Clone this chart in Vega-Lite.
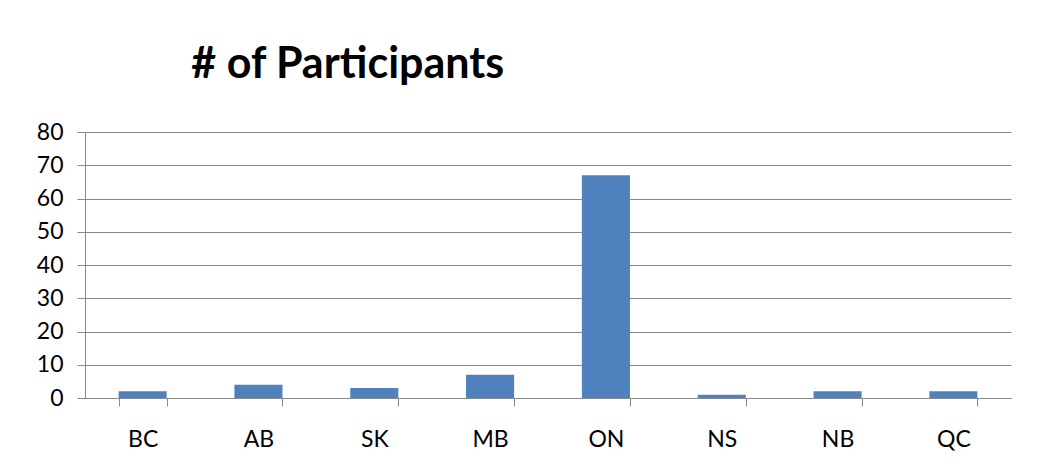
{
  "$schema": "https://vega.github.io/schema/vega-lite/v6.json",
  "width": 926,
  "height": 266,
  "autosize": "none",
  "padding": {"left": 85, "top": 132, "right": 26, "bottom": 72},
  "background": "white",
  "title": {
    "text": "# of Participants",
    "anchor": "start",
    "dx": 155,
    "offset": 34,
    "fontSize": 43,
    "font": "Lato",
    "fontWeight": "bold",
    "color": "black"
  },
  "data": {
    "values": [
      {"province": "BC", "participants": 2},
      {"province": "AB", "participants": 4},
      {"province": "SK", "participants": 3},
      {"province": "MB", "participants": 7},
      {"province": "ON", "participants": 67},
      {"province": "NS", "participants": 1},
      {"province": "NB", "participants": 2},
      {"province": "QC", "participants": 2}
    ]
  },
  "mark": {"type": "bar", "color": "#4F81BD"},
  "encoding": {
    "x": {
      "field": "province",
      "type": "nominal",
      "sort": null,
      "scale": {"paddingInner": 0.585, "paddingOuter": 0.29},
      "axis": {
        "title": null,
        "labelAngle": 0,
        "tickBand": "extent",
        "tickSize": 8,
        "tickColor": "#888888",
        "domainColor": "#888888",
        "labelFont": "Lato",
        "labelFontSize": 23,
        "labelColor": "black",
        "labelPadding": 22,
        "grid": false
      }
    },
    "y": {
      "field": "participants",
      "type": "quantitative",
      "scale": {"domain": [0, 80], "nice": false},
      "axis": {
        "title": null,
        "values": [0, 10, 20, 30, 40, 50, 60, 70, 80],
        "tickSize": 8,
        "tickColor": "#888888",
        "domainColor": "#888888",
        "gridColor": "#888888",
        "gridOpacity": 1,
        "labelFont": "Lato",
        "labelFontSize": 23,
        "labelColor": "black",
        "labelPadding": 14
      }
    }
  },
  "config": {"view": {"stroke": null}}
}
